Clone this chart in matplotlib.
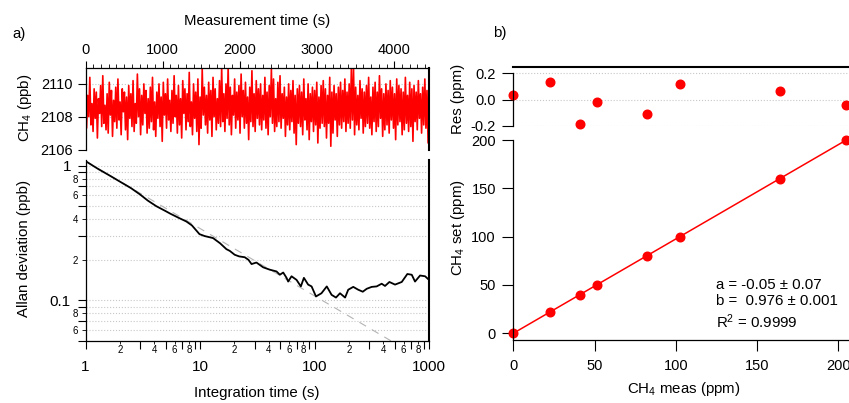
"""
Allan-varians og kalibrering for CH4-analysator.
a) tidsserie + Allan-avvik, b) kalibreringskurve med residualer.
"""

import numpy as np
import matplotlib.pyplot as plt
from matplotlib.ticker import FixedLocator, FuncFormatter, MultipleLocator

plt.rcParams["font.family"] = ["Liberation Sans", "DejaVu Sans"]
plt.rcParams["mathtext.default"] = "regular"
plt.rcParams["axes.linewidth"] = 0.9

# --- a) tidsserie (avvik fra basisnivå i 0.1 ppb) ---
CH4_BASE = 2108.5
CH4_STEP_S = 14.0
CH4_DEV = [
    15, -12, 8, -5, 19, -10, 3, -14, 12, -6, 10, -18, 6, -3, 14, -11, 20, -9, 2, -13,
    9, -15, 16, -4, 11, -17, 5, -8, 13, -12, 18, -7, 4, -16, 12, -2, 10, -13, 7, -19,
    14, -6, 9, -11, 17, -14, 3, -9, 21, -5, 12, -16, 8, -10, 15, -3, 11, -15, 6, -12,
    13, -8, 19, -13, 4, -17, 10, -6, 15, -11, 7, -20, 16, -4, 9, -12, 18, -7, 5, -14,
    11, -9, 20, -5, 8, -15, 14, -10, 6, -18, 17, -3, 12, -13, 9, -8, 22, -11, 4, -16,
    15, -6, 10, -14, 18, -22, 7, -12, 24, -4, 13, -10, 8, -15, 16, -7, 11, -17, 19, -5,
    12, -13, 6, -9, 17, -11, 25, -8, 9, -14, 15, -6, 25, -10, 13, -16, 8, -4, 18, -12,
    10, -7, 14, -15, 21, -5, 11, -12, 16, -9, 7, -19, 13, -8, 23, -11, 9, -14, 17, -6,
    12, -10, 15, -13, 8, -7, 19, -12, 10, -16, 14, -5, 24, -9, 18, -14, 6, -11, 16, -8,
    20, -12, 9, -6, 13, -17, 7, -10, 15, -13, 11, -8, 17, -15, 8, -22, 12, -9, 14, -11,
    10, -16, 18, -7, 6, -13, 15, -19, 9, -8, 13, -14, 11, -10, 16, -21, 7, -12, 14, -9,
    17, -11, 12, -18, 8, -9, 19, -23, 10, -15, 14, -7, 9, -17, 13, -10, 16, -12, 11, -8,
    18, -14, 10, -9, 15, -12, 24, -7, 25, -16, 13, -10, 8, -13, 17, -6, 12, -15, 10, -11,
    14, -9, 19, -12, 7, -16, 13, -8, 16, -14, 10, -11, 20, -6, 12, -17, 9, -13, 15, -10,
    11, -15, 17, -7, 13, -12, 9, -19, 18, -10, 14, -8, 12, -16, 10, -13, 19, -9, 8, -14,
    16, -11, 12, -20, 14, -8, 10, -13, 17, -6, 9, -15, 13, -10, 18, -12, 11, -21, 15, -22,
]

# --- a) Allan-avvik ---
TAU = [1, 1.3, 1.6, 2, 2.5, 3, 3.5, 4.15, 5, 5.5, 6.5, 7.6, 8.5, 9.9, 11, 13, 15,
       17, 18.2, 20.1, 22, 24.6, 26.5, 28.2, 31.1, 35.6, 40.7, 46.6, 49.8, 53.3,
       57, 58.9, 63, 69.7, 76, 80.8, 88, 94.3, 103, 115, 128, 141, 154, 167, 185,
       197, 218, 241, 264, 286, 316, 349, 386, 413, 451, 505, 578, 647, 707, 755,
       836, 925, 1000]
SIGMA = [1.08, 0.94, 0.85, 0.76, 0.68, 0.61, 0.55, 0.50, 0.46, 0.44, 0.41, 0.385,
         0.36, 0.31, 0.30, 0.29, 0.265, 0.24, 0.233, 0.218, 0.212, 0.209, 0.200,
         0.186, 0.191, 0.176, 0.169, 0.164, 0.155, 0.161, 0.147, 0.138, 0.151,
         0.142, 0.127, 0.147, 0.131, 0.127, 0.107, 0.113, 0.127, 0.110, 0.105,
         0.113, 0.105, 0.120, 0.126, 0.120, 0.116, 0.122, 0.126, 0.127, 0.133,
         0.128, 0.137, 0.131, 0.137, 0.157, 0.155, 0.138, 0.153, 0.151, 0.142]
WHITE_TAU = [1, 1000]
WHITE_SIGMA = [1.08, 0.0342]

# --- b) kalibrering ---
CH4_MEAS = [0.0, 22.4, 41.2, 51.5, 82.1, 102.4, 164.1, 204.7]
CH4_SET = [0, 22, 40, 50, 80, 100, 160, 200]
RESID = [0.038, 0.13, -0.183, -0.018, -0.112, 0.12, 0.066, -0.04]
FIT_A, FIT_B = -0.05, 0.976
FIT_X = [0, 206.6]

W, H = 849, 403
RED = "#ff0000"
GRID = dict(color="#c8c8c8", linestyle=":", linewidth=0.8)
FS = 10.8


def boks(l, t, r, b):
    return [l / W, 1 - b / H, (r - l) / W, (b - t) / H]


def ftekst(fig, x, y, s, **kw):
    fig.text(x / W, 1 - y / H, s, fontsize=FS, **kw)


def tiaar_etikett(v, pos):
    e = np.log10(v)
    return f"{v:g}" if abs(e - round(e)) < 1e-9 else ""


def siffer_etikett(v, pos):
    m = v / 10 ** np.floor(np.log10(v) + 1e-9)
    return f"{m:.0f}"


fig = plt.figure(figsize=(W / 100, H / 100), dpi=100)

# ---------- a) tidsserie ----------
ax = fig.add_axes(boks(85.5, 67.5, 429, 149.5))
t = np.arange(len(CH4_DEV)) * CH4_STEP_S
ax.plot(t, CH4_BASE + np.array(CH4_DEV) / 10, color=RED, lw=1.2)
ax.set_xlim(0, 4450)
ax.set_ylim(2106, 2111)
ax.set_yticks([2106, 2108, 2110])
ax.xaxis.tick_top()
ax.xaxis.set_major_locator(MultipleLocator(1000))
ax.xaxis.set_minor_locator(MultipleLocator(100))
ax.tick_params(axis="x", which="major", direction="out", length=4.8, pad=3, labelsize=10.5)
ax.tick_params(axis="x", which="minor", direction="out", length=2.8)
ax.tick_params(axis="y", direction="out", length=6, pad=3, labelsize=10.5)
ax.spines["bottom"].set_visible(False)
ax.spines["right"].set_linewidth(1.5)
ax.grid(axis="y", **GRID)
ax.set_axisbelow(True)

# ---------- a) Allan-avvik ----------
ax = fig.add_axes(boks(85.5, 160, 429, 341))
ax.set_xscale("log")
ax.set_yscale("log")
ax.plot(WHITE_TAU, WHITE_SIGMA, color="#b4b4b4", lw=0.8, dashes=(7, 6))
ax.plot(TAU, SIGMA, color="black", lw=1.3)
ax.set_xlim(1, 1000)
ax.set_ylim(0.05, 1.1)

xmaj = [d * m for d in (1, 10, 100) for m in (1, 3, 5, 7, 9)] + [1000]
xmin = [d * m for d in (1, 10, 100) for m in (2, 4, 6, 8)]
ymaj = [0.05, 0.07, 0.09, 0.1, 0.3, 0.5, 0.7, 0.9, 1]
ymin = [0.06, 0.08, 0.2, 0.4, 0.6, 0.8]
ax.xaxis.set_major_locator(FixedLocator(xmaj))
ax.xaxis.set_minor_locator(FixedLocator(xmin))
ax.yaxis.set_major_locator(FixedLocator(ymaj))
ax.yaxis.set_minor_locator(FixedLocator(ymin))
for akse in (ax.xaxis, ax.yaxis):
    akse.set_major_formatter(FuncFormatter(tiaar_etikett))
    akse.set_minor_formatter(FuncFormatter(siffer_etikett))
ax.tick_params(axis="x", which="major", direction="out", length=6, pad=7.5, labelsize=11)
ax.tick_params(axis="x", which="minor", direction="out", length=2.5, pad=0.5, labelsize=7)
ax.tick_params(axis="y", which="major", direction="out", length=6, pad=4.5, labelsize=11)
ax.tick_params(axis="y", which="minor", direction="out", length=3, pad=2.5, labelsize=7)
ax.spines["top"].set_visible(False)
ax.spines["right"].set_linewidth(1.5)
ax.grid(axis="y", which="both", **GRID)
ax.set_axisbelow(True)

# ---------- b) residualer ----------
ax = fig.add_axes(boks(513.3, 67, 849, 126.4))
ax.plot(CH4_MEAS, RESID, "o", color=RED, ms=6.2, clip_on=False)
ax.set_xlim(0, 206.6)
ax.set_ylim(-0.205, 0.248)
ax.set_yticks([-0.2, 0.0, 0.2])
ax.yaxis.set_major_formatter(FuncFormatter(lambda v, p: f"{v:.1f}"))
ax.set_xticks([])
ax.tick_params(axis="y", direction="out", length=8, pad=4.5, labelsize=10.5)
ax.spines["left"].set_bounds(-0.2, 0.2)
ax.spines["bottom"].set_visible(False)
ax.spines["right"].set_visible(False)
ax.spines["top"].set_linewidth(1.5)
ax.grid(axis="y", **GRID)
ax.set_axisbelow(True)

# ---------- b) kalibrering ----------
ax = fig.add_axes(boks(513.3, 140, 849, 340))
fit_y = [FIT_A + FIT_B * x for x in FIT_X]
ax.plot(FIT_X, fit_y, color=RED, lw=1.1)
ax.plot(CH4_MEAS, CH4_SET, "o", color=RED, ms=6.2, clip_on=False)
ax.set_xlim(0, 206.6)
ax.set_ylim(-7, 200)
ax.set_xticks([0, 50, 100, 150, 200])
ax.set_yticks([0, 50, 100, 150, 200])
ax.tick_params(direction="out", length=8, labelsize=10.5)
ax.tick_params(axis="x", pad=6)
ax.tick_params(axis="y", pad=4.5)
ax.spines["top"].set_visible(False)
ax.spines["right"].set_visible(False)

# ---------- tekster ----------
ftekst(fig, 12, 34, "a)", va="center")
ftekst(fig, 493, 33, "b)", va="center")
ftekst(fig, 257, 21, "Measurement time (s)", ha="center", va="center")
ftekst(fig, 257, 393, "Integration time (s)", ha="center", va="center")
ftekst(fig, 684, 389, "CH$_4$ meas (ppm)", ha="center", va="center")
ftekst(fig, 25, 108, "CH$_4$ (ppb)", ha="center", va="center", rotation=90)
ftekst(fig, 24, 248, "Allan deviation (ppb)", ha="center", va="center", rotation=90)
ftekst(fig, 458, 99, "Res (ppm)", ha="center", va="center", rotation=90)
ftekst(fig, 458, 228, "CH$_4$ set (ppm)", ha="center", va="center", rotation=90)
ftekst(fig, 716, 285, "a = -0.05 \u00b1 0.07", va="center")
ftekst(fig, 716, 301, "b =  0.976 \u00b1 0.001", va="center")
ftekst(fig, 716, 322, "R$^2$ = 0.9999", va="center")

fig.savefig("out.png", dpi=100)
plt.close(fig)
